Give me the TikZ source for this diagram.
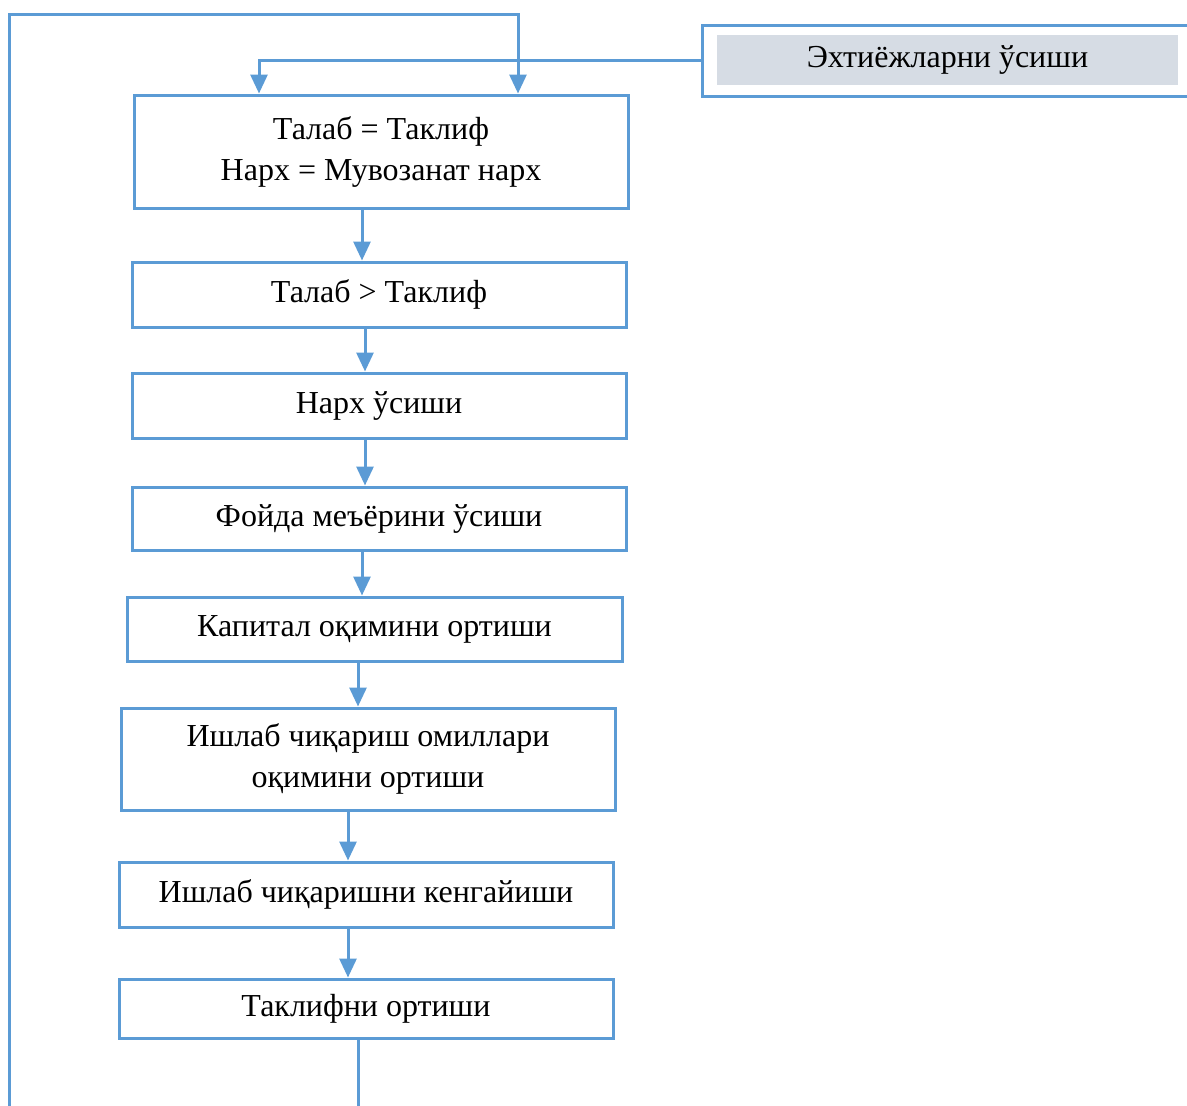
\documentclass[tikz,border=0pt]{standalone}
\usepackage{fontspec}
\setmainfont{Liberation Serif}
\usepackage{tikz}
\usetikzlibrary{arrows.meta}
\usepackage{xcolor}

\definecolor{lineblue}{HTML}{5B9BD5}
\definecolor{boxgray}{HTML}{D6DCE4}

\tikzset{
  blk/.style={draw=lineblue, line width=3pt, align=center, inner sep=0pt,
    font=\fontsize{32}{41}\selectfont},
  ln/.style={draw=lineblue, line width=3pt},
  arr/.style={ln, -{Triangle[length=19pt,width=17pt]}}
}

\begin{document}
\begin{tikzpicture}[x=1pt, y=-1pt]
  \useasboundingbox (0,0) rectangle (1187,1106);
  % Nodes
  \node[blk, minimum width=490pt, minimum height=71pt] (need) at (947,60.5) {};
  \node[fill=boxgray, minimum width=461pt, minimum height=50pt, inner sep=0pt,
    font=\fontsize{32}{41}\selectfont] (needtxt) at (947.5,60) {Эхтиёжларни ўсиши};

  \node[blk, minimum width=494pt, minimum height=113pt] (n1) at (381,151.5) {Талаб = Таклиф\\Нарх = Мувозанат нарх};
  \node[blk, minimum width=494pt, minimum height=65pt] (n2) at (379,294.5) {Талаб > Таклиф};
  \node[blk, minimum width=494pt, minimum height=65pt] (n3) at (379,405.5) {Нарх ўсиши};
  \node[blk, minimum width=494pt, minimum height=63pt] (n4) at (379,518.5) {Фойда меъёрини ўсиши};
  \node[blk, minimum width=495pt, minimum height=64pt] (n5) at (374.5,629) {Капитал оқимини ортиши};
  \node[blk, minimum width=494pt, minimum height=102pt] (n6) at (368,759) {Ишлаб чиқариш омиллари\\оқимини ортиши};
  \node[blk, minimum width=494pt, minimum height=65pt] (n7) at (366,894.5) {Ишлаб чиқаришни кенгайиши};
  \node[blk, minimum width=494pt, minimum height=59pt] (n8) at (366,1008.5) {Таклифни ортиши};

  \coordinate (ltop) at (9,14);
  \coordinate (lbot) at (9,1110);
  \coordinate (n8end) at (358,1110);

  % Edges
  \draw[arr] (need.west) -| ([xshift=-122pt]n1.north);
  \draw[arr] (lbot) -- (ltop) -| ([xshift=137pt]n1.north);

  \draw[arr] ([xshift=-19pt]n1.south) -- ([xshift=-19pt]n1.south |- n2.north);
  \draw[arr] ([xshift=-14pt]n2.south) -- ([xshift=-14pt]n2.south |- n3.north);
  \draw[arr] ([xshift=-14pt]n3.south) -- ([xshift=-14pt]n3.south |- n4.north);
  \draw[arr] ([xshift=-17pt]n4.south) -- ([xshift=-17pt]n4.south |- n5.north);
  \draw[arr] ([xshift=-16.5pt]n5.south) -- ([xshift=-16.5pt]n5.south |- n6.north);
  \draw[arr] ([xshift=-20pt]n6.south) -- ([xshift=-20pt]n6.south |- n7.north);
  \draw[arr] ([xshift=-18pt]n7.south) -- ([xshift=-18pt]n7.south |- n8.north);
  \draw[ln] ([xshift=-8pt]n8.south) -- (n8end);
\end{tikzpicture}
\end{document}
